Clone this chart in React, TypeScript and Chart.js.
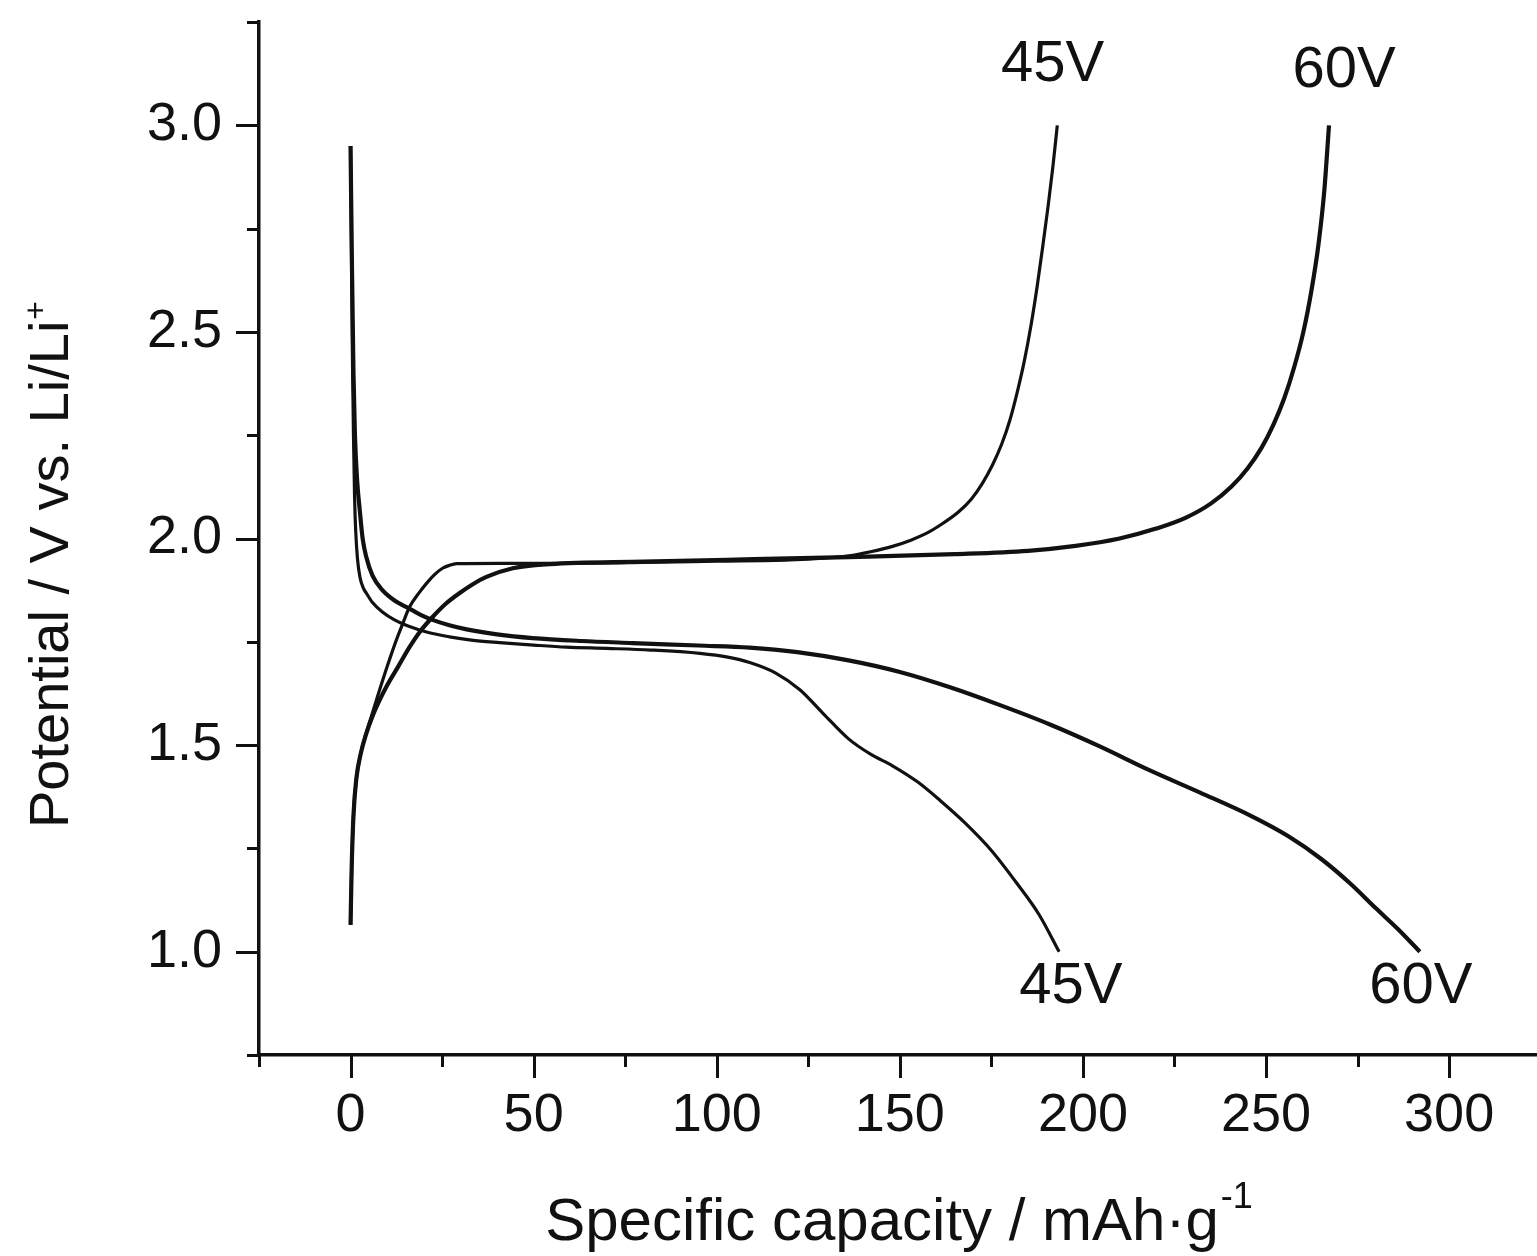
import React, { useEffect, useRef } from "react";
import { Chart, registerables } from "chart.js";

Chart.register(...registerables);

const FONT = '"Liberation Sans", Arial, Helvetica, sans-serif';
const INK = "#111111";

// ---- axis ticks ----
const xTickValues = [-25, 0, 25, 50, 75, 100, 125, 150, 175, 200, 225, 250, 275, 300];
const xMajorTicks = [0, 50, 100, 150, 200, 250, 300];
const yTickValues = [0.75, 1.0, 1.25, 1.5, 1.75, 2.0, 2.25, 2.5, 2.75, 3.0, 3.25];
const yMajorTicks = [1.0, 1.5, 2.0, 2.5, 3.0];

// ---- 45V discharge ----
const cap45Discharge = [0, 0.25, 0.5, 0.8, 1.1, 1.4, 1.9, 2.6, 3.5, 4.3, 6, 8.7, 12, 16.1, 21, 27, 33, 40.7, 50, 59, 70, 82, 95.4, 103, 109, 116, 122.7, 129, 136, 142, 148, 155, 161, 168, 175, 182, 188, 193.5];
const volt45Discharge = [2.95, 2.7, 2.45, 2.25, 2.1, 2.02, 1.95, 1.905, 1.88, 1.868, 1.845, 1.822, 1.803, 1.787, 1.773, 1.762, 1.754, 1.748, 1.742, 1.737, 1.734, 1.73, 1.722, 1.713, 1.7, 1.675, 1.634, 1.577, 1.515, 1.478, 1.45, 1.41, 1.366, 1.31, 1.245, 1.165, 1.09, 1.0];

// ---- 60V discharge ----
const cap60Discharge = [0, 0.4, 0.8, 1.2, 1.8, 2.5, 3.3, 4.3, 6, 8.7, 12, 15.3, 19, 22.4, 27, 31.7, 40, 49.7, 63, 77, 95, 109, 122, 136, 150, 163.7, 177, 191, 204.6, 218, 232, 245.6, 256, 265, 273, 280, 286, 292];
const volt60Discharge = [2.95, 2.65, 2.4, 2.25, 2.14, 2.07, 2.0, 1.955, 1.91, 1.875, 1.85, 1.834, 1.816, 1.803, 1.79, 1.78, 1.768, 1.759, 1.752, 1.747, 1.741, 1.736, 1.725, 1.705, 1.677, 1.64, 1.598, 1.55, 1.497, 1.44, 1.385, 1.33, 1.28, 1.225, 1.165, 1.105, 1.055, 1.0];

// ---- 45V charge ----
const cap45Charge = [0, 0.3, 0.8, 1.6, 2.8, 4.3, 5.7, 7.1, 10, 12.5, 14.3, 16.1, 18.5, 20.8, 23, 25.1, 27, 29, 40.7, 60, 80, 100, 120, 130, 136, 142, 148, 153, 158, 162, 166, 169.5, 172.5, 175.3, 177.8, 180, 182, 184, 185.8, 187.5, 189, 190.5, 191.8, 193];
const volt45Charge = [1.065, 1.2, 1.33, 1.42, 1.48, 1.53, 1.57, 1.61, 1.69, 1.754, 1.795, 1.834, 1.866, 1.892, 1.913, 1.928, 1.935, 1.939, 1.94, 1.94, 1.942, 1.945, 1.948, 1.953, 1.958, 1.968, 1.981, 1.996, 2.016, 2.038, 2.064, 2.095, 2.133, 2.178, 2.228, 2.285, 2.352, 2.43, 2.515, 2.61, 2.705, 2.805, 2.9, 3.0];

// ---- 60V charge ----
const cap60Charge = [0, 0.3, 0.8, 1.6, 2.8, 4.3, 6, 8, 10, 13, 16.1, 19, 22.4, 26, 29.8, 33.5, 37.1, 44.3, 54.4, 80, 110, 136, 165, 185, 198, 210, 220, 228, 235, 240.5, 245, 248.8, 252, 255, 257.7, 260.2, 262.4, 264.3, 265.9, 267.2];
const volt60Charge = [1.065, 1.2, 1.33, 1.42, 1.48, 1.528, 1.57, 1.61, 1.645, 1.69, 1.737, 1.775, 1.81, 1.842, 1.868, 1.89, 1.907, 1.928, 1.938, 1.944, 1.95, 1.955, 1.962, 1.97, 1.982, 2.0, 2.024, 2.05, 2.085, 2.125, 2.17, 2.22, 2.275, 2.34, 2.415, 2.5, 2.6, 2.71, 2.84, 3.0];

// ---- curve labels (data coordinates of text centre / baseline) ----
const curveLabels = ["45V", "60V", "45V", "60V"];
const labelCap = [191.7, 271.3, 196.7, 292.3];
const labelVolt = [3.107, 3.092, 0.876, 0.876];

const xTitle = "Specific capacity / mAh\u00B7g";
const xTitleSup = "-1";
const yTitle = "Potential / V vs. Li/Li";
const yTitleSup = "+";

const toPoints = (xs: number[], ys: number[]) => xs.map((x, i) => ({ x, y: ys[i] }));

const decorPlugin = {
  id: "decor",
  afterDraw(chart: any) {
    const { ctx, chartArea, scales } = chart;
    const xs = scales.x;
    const ys = scales.y;
    ctx.save();
    ctx.strokeStyle = INK;
    ctx.lineWidth = 3;
    ctx.lineCap = "butt";
    yTickValues.forEach((v) => {
      const py = Math.round(ys.getPixelForValue(v)) + 0.5;
      const len = yMajorTicks.includes(v) ? 23 : 12;
      ctx.beginPath();
      ctx.moveTo(chartArea.left - len, py);
      ctx.lineTo(chartArea.left, py);
      ctx.stroke();
    });
    xTickValues.forEach((v) => {
      const px = Math.round(xs.getPixelForValue(v)) + 0.5;
      const len = xMajorTicks.includes(v) ? 23 : 12;
      ctx.beginPath();
      ctx.moveTo(px, chartArea.bottom);
      ctx.lineTo(px, chartArea.bottom + len);
      ctx.stroke();
    });

    ctx.fillStyle = INK;
    ctx.textBaseline = "alphabetic";
    ctx.textAlign = "center";
    ctx.font = `58px ${FONT}`;
    curveLabels.forEach((t, i) => {
      ctx.fillText(t, xs.getPixelForValue(labelCap[i]), ys.getPixelForValue(labelVolt[i]));
    });

    // x title
    ctx.textAlign = "left";
    ctx.font = `60px ${FONT}`;
    const wMain = ctx.measureText(xTitle).width;
    ctx.font = `36px ${FONT}`;
    const wSup = ctx.measureText(xTitleSup).width;
    const cx = (chartArea.left + chartArea.right) / 2;
    const startX = cx - (wMain + wSup) / 2;
    ctx.font = `60px ${FONT}`;
    ctx.fillText(xTitle, startX, 1240);
    ctx.font = `36px ${FONT}`;
    ctx.fillText(xTitleSup, startX + wMain + 2, 1208);

    // y title
    ctx.save();
    ctx.translate(68, 828);
    ctx.rotate(-Math.PI / 2);
    ctx.font = `56px ${FONT}`;
    const wy = ctx.measureText(yTitle).width;
    ctx.fillText(yTitle, 0, 0);
    ctx.font = `32px ${FONT}`;
    ctx.fillText(yTitleSup, wy + 1, -22);
    ctx.restore();

    ctx.restore();
  },
};

export default function App() {
  const canvasRef = useRef<HTMLCanvasElement | null>(null);

  useEffect(() => {
    const canvas = canvasRef.current;
    if (!canvas) return;
    const lineStyle = (width: number) => ({
      borderColor: INK,
      backgroundColor: INK,
      borderWidth: width,
      pointRadius: 0,
      fill: false,
      showLine: true,
      borderJoinStyle: "round" as const,
      cubicInterpolationMode: "monotone" as const,
    });
    const chart = new Chart(canvas, {
      type: "line",
      data: {
        datasets: [
          { label: "45V discharge", data: toPoints(cap45Discharge, volt45Discharge), ...lineStyle(3.2) },
          { label: "45V charge", data: toPoints(cap45Charge, volt45Charge), ...lineStyle(3.2) },
          { label: "60V discharge", data: toPoints(cap60Discharge, volt60Discharge), ...lineStyle(4.2) },
          { label: "60V charge", data: toPoints(cap60Charge, volt60Charge), ...lineStyle(4.2) },
        ],
      },
      options: {
        responsive: false,
        animation: false,
        devicePixelRatio: 1,
        layout: { padding: { top: 22, left: 0, right: 0, bottom: 0 } },
        plugins: { legend: { display: false }, tooltip: { enabled: false }, title: { display: false } },
        scales: {
          x: {
            type: "linear",
            min: -25,
            max: 324,
            afterBuildTicks: (s: any) => {
              s.ticks = xTickValues.map((v) => ({ value: v }));
            },
            afterFit: (s: any) => {
              s.height = 201;
              s.paddingLeft = 0;
              s.paddingRight = 0;
            },
            grid: { display: false, drawTicks: false },
            border: { display: true, color: INK, width: 3.5 },
            ticks: {
              autoSkip: false,
              maxRotation: 0,
              padding: 29,
              color: INK,
              font: { family: FONT, size: 54 },
              callback: (v: any) => (xMajorTicks.includes(Number(v)) ? String(v) : ""),
            },
          },
          y: {
            type: "linear",
            min: 0.75,
            max: 3.25,
            afterBuildTicks: (s: any) => {
              s.ticks = yTickValues.map((v) => ({ value: v }));
            },
            afterFit: (s: any) => {
              s.width = 259;
              s.paddingTop = 0;
              s.paddingBottom = 0;
            },
            grid: { display: false, drawTicks: false },
            border: { display: true, color: INK, width: 3.5 },
            ticks: {
              autoSkip: false,
              padding: 37,
              color: INK,
              font: { family: FONT, size: 54 },
              callback: (v: any) => (yMajorTicks.includes(Number(v)) ? Number(v).toFixed(1) : ""),
            },
          },
        },
      },
      plugins: [decorPlugin],
    });
    return () => chart.destroy();
  }, []);

  return (
    <div style={{ position: "absolute", left: 0, top: 0, width: 1537, height: 1256, background: "#ffffff" }}>
      <canvas ref={canvasRef} width={1537} height={1256} style={{ display: "block", width: 1537, height: 1256 }} />
    </div>
  );
}
